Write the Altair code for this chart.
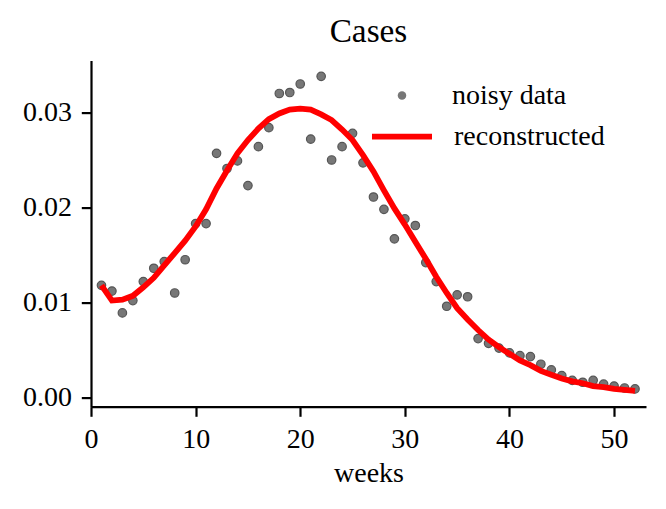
import altair as alt
import pandas as pd

weeks = [1, 2, 3, 4, 5, 6, 7, 8, 9, 10, 11, 12, 13, 14, 15, 16, 17, 18, 19, 20,
         21, 22, 23, 24, 25, 26, 27, 28, 29, 30, 31, 32, 33, 34, 35, 36, 37, 38, 39, 40,
         41, 42, 43, 44, 45, 46, 47, 48, 49, 50, 51, 52]

noisy = [0.0118, 0.0112, 0.0089, 0.0102, 0.0122, 0.0136, 0.0143, 0.0110, 0.0145, 0.0183,
         0.0183, 0.0257, 0.0241, 0.0249, 0.0223, 0.0264, 0.0284, 0.0320, 0.0321, 0.0330,
         0.0272, 0.0338, 0.0250, 0.0264, 0.0278, 0.0247, 0.0211, 0.0198, 0.0167, 0.0188,
         0.0181, 0.0142, 0.0122, 0.0096, 0.0108, 0.0106, 0.0062, 0.0057, 0.0052, 0.0047,
         0.0044, 0.0043, 0.0035, 0.0029, 0.0023, 0.0018, 0.0016, 0.0018, 0.0014, 0.0012,
         0.0010, 0.0009]

reconstructed = [0.0118, 0.0102, 0.0103, 0.0107, 0.0116, 0.0126, 0.0139, 0.0152, 0.0165, 0.0180,
                 0.0198, 0.0220, 0.0239, 0.0257, 0.0271, 0.0283, 0.0293, 0.0299, 0.0303, 0.0304,
                 0.0303, 0.0298, 0.0292, 0.0282, 0.0271, 0.0255, 0.0238, 0.0218, 0.0199, 0.0182,
                 0.0164, 0.0146, 0.0127, 0.0110, 0.0094, 0.0082, 0.0071, 0.0061, 0.0053, 0.0046,
                 0.0039, 0.0034, 0.0028, 0.0024, 0.0020, 0.0017, 0.0015, 0.0012, 0.0011, 0.0009,
                 0.0008, 0.0007]

x_ticks = [0, 10, 20, 30, 40, 50]
y_ticks = [0.0, 0.01, 0.02, 0.03]

df = pd.DataFrame({
    "week": weeks,
    "noisy": noisy,
    "recon": reconstructed,
    "s1": ["noisy data"] * len(weeks),
    "s2": ["reconstructed"] * len(weeks),
})

FONT = "Liberation Serif"

x_enc = alt.X(
    "week:Q",
    scale=alt.Scale(domain=[0, 53.05], nice=False, zero=False),
    axis=alt.Axis(values=x_ticks, format="d", title="weeks", grid=False,
                  labelFlush=False, titleY=75.3, titleBaseline="alphabetic"),
)
y_scale = alt.Scale(domain=[-0.00096, 0.03546], nice=False, zero=False)
y_axis = alt.Axis(values=y_ticks, format=".2f", title=None, grid=False)

pts = alt.Chart(df).mark_point(
    filled=True, size=72, fill="#606060", stroke="#383838", strokeWidth=1.2, opacity=0.85
).encode(
    x=x_enc,
    y=alt.Y("noisy:Q", scale=y_scale, axis=y_axis),
    shape=alt.Shape(
        "s1:N",
        scale=alt.Scale(range=["circle"]),
        legend=alt.Legend(
            title=None, orient="none", legendX=297, legendY=21,
            labelOffset=36, symbolSize=72, symbolFillColor="#606060",
            symbolStrokeColor="#383838", symbolStrokeWidth=1.2, symbolOpacity=0.85,
            padding=0,
        ),
    ),
)

line = alt.Chart(df).mark_line(color="#ff0000", strokeWidth=5.8).encode(
    x=x_enc,
    y=alt.Y("recon:Q", scale=y_scale, axis=y_axis),
    stroke=alt.Stroke(
        "s2:N",
        scale=alt.Scale(range=["#ff0000"]),
        legend=alt.Legend(
            title=None, orient="none", legendX=278, legendY=43,
            symbolType="stroke", symbolSize=3600, symbolStrokeWidth=5.8,
            labelOffset=19, padding=0,
        ),
    ),
)

chart = alt.layer(pts, line).properties(
    width=555,
    height=346,
    autosize=alt.AutoSizeParams(type="none"),
    padding={"left": 83, "top": 52.6, "right": 12, "bottom": 95},
    title=alt.TitleParams("Cases", font=FONT, fontSize=33.3, fontWeight="normal",
                          color="black", anchor="middle", baseline="alphabetic",
                          offset=16.6, dy=31),
).configure_view(stroke=None).configure_axis(
    labelFont=FONT, labelFontSize=28, labelColor="black",
    titleFont=FONT, titleFontSize=28, titleColor="black", titleFontWeight="normal",
    domainColor="black", domainWidth=2.2, tickColor="black", tickWidth=2.2,
    tickSize=9.7, labelPadding=9.7,
).configure_legend(
    labelFont=FONT, labelFontSize=28, labelColor="black",
)

chart.save("out.html", embed_options={"renderer": "svg", "actions": False})
